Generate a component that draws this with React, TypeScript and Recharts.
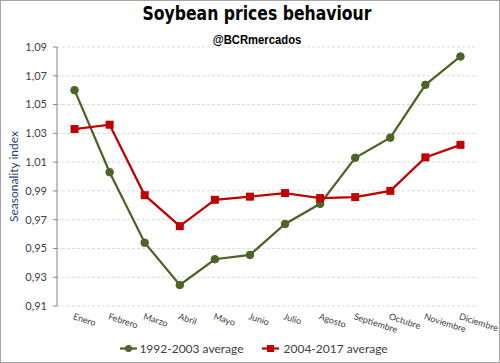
import { LineChart, Line, XAxis, YAxis, CartesianGrid, Legend } from "recharts";

const months = [
  "Enero",
  "Febrero",
  "Marzo",
  "Abril",
  "Mayo",
  "Junio",
  "Julio",
  "Agosto",
  "Septiembre",
  "Octubre",
  "Noviembre",
  "Diciembre",
];
const avg1992 = [
  1.06, 1.003, 0.954, 0.9246, 0.9425, 0.9455, 0.967, 0.981, 1.013, 1.027,
  1.0637, 1.0834,
];
const avg2004 = [
  1.033, 1.036, 0.987, 0.9655, 0.9838, 0.986, 0.9885, 0.985, 0.9857, 0.99,
  1.0133, 1.022,
];
const yTicks = [0.91, 0.93, 0.95, 0.97, 0.99, 1.01, 1.03, 1.05, 1.07, 1.09];

const GREEN = "#4F6228";
const RED = "#C00000";
const TEXT = "#404040";
const AXIS = "#868686";
const FONT = "Lato, 'Open Sans', sans-serif";

// categories sit in the middle of each band, ticks mark the band edges
const data = months.map((m, i) => ({
  x: i + 0.5,
  month: m,
  a: avg1992[i],
  b: avg2004[i],
}));
const edgeTicks = [...months.map((_, i) => i), months.length];
const centerTicks = months.map((_, i) => i + 0.5);

const MonthTick = ({ x, y, payload }: any) => (
  <g transform={`translate(${x},${y + 7}) rotate(18)`}>
    <text
      x={0}
      y={0}
      dy="0.71em"
      textAnchor="start"
      fontSize={9}
      fontFamily={FONT}
      fill={TEXT}
    >
      {months[Math.floor(payload.value)]}
    </text>
  </g>
);

const Square = (props: any) => {
  const { cx, cy, index } = props;
  if (cx == null || cy == null) return <g key={index} />;
  return (
    <rect key={index} x={cx - 4} y={cy - 4} width={8} height={8} fill={RED} />
  );
};

const LegendContent = () => (
  <div
    style={{
      display: "flex",
      justifyContent: "center",
      alignItems: "center",
      gap: 18,
      height: 26,
      paddingLeft: 8,
      fontFamily: FONT,
      fontSize: 12,
      color: TEXT,
    }}
  >
    <span style={{ display: "flex", alignItems: "center", gap: 2 }}>
      <svg width={17} height={9}>
        <line x1={0} y1={4.5} x2={17} y2={4.5} stroke={GREEN} strokeWidth={2.25} />
        <circle cx={8.5} cy={4.5} r={3.5} fill={GREEN} />
      </svg>
      1992-2003 average
    </span>
    <span style={{ display: "flex", alignItems: "center", gap: 5 }}>
      <svg width={17} height={9}>
        <line x1={0} y1={4.5} x2={17} y2={4.5} stroke={RED} strokeWidth={2.25} />
        <rect x={5} y={1} width={7} height={7} fill={RED} />
      </svg>
      2004-2017 average
    </span>
  </div>
);

export default function App() {
  return (
    <div
      style={{
        position: "absolute",
        left: 0,
        top: 0,
        width: 500,
        height: 363,
        background: "#fff",
      }}
    >
      <LineChart
        width={500}
        height={363}
        data={data}
        margin={{ top: 47, right: 22, left: 0, bottom: 2 }}
      >
        <CartesianGrid
          vertical={false}
          stroke="#d9d9d9"
          strokeDasharray="3 2"
        />
        <XAxis
          type="number"
          dataKey="x"
          domain={[0, 12]}
          ticks={edgeTicks}
          interval={0}
          height={0}
          tickSize={4}
          tickFormatter={() => ""}
          stroke={AXIS}
        />
        <XAxis
          xAxisId="m"
          type="number"
          dataKey="x"
          domain={[0, 12]}
          ticks={centerTicks}
          interval={0}
          height={29}
          tickSize={0}
          tickMargin={0}
          axisLine={false}
          tickLine={false}
          tick={<MonthTick />}
        />
        <YAxis
          width={57}
          domain={[0.91, 1.09]}
          ticks={yTicks}
          interval={0}
          tickSize={4}
          tickMargin={6}
          stroke={AXIS}
          tick={{ fill: TEXT, fontSize: 11, fontFamily: FONT }}
          tickFormatter={(v: number) => v.toFixed(2).replace(".", ",")}
          label={{
            value: "Seasonality index",
            angle: -90,
            position: "insideLeft",
            offset: 14,
            fill: "#1F3F76",
            fontSize: 12,
            fontFamily: FONT,
            style: { textAnchor: "middle" },
          }}
        />
        <Legend
          verticalAlign="bottom"
          height={26}
          wrapperStyle={{ left: 0, width: 500 }}
          content={<LegendContent />}
        />
        <Line
          dataKey="a"
          name="1992-2003 average"
          stroke={GREEN}
          strokeWidth={2.25}
          dot={{ r: 3.8, fill: GREEN, stroke: GREEN, strokeWidth: 1 }}
          activeDot={false}
          isAnimationActive={false}
        />
        <Line
          dataKey="b"
          name="2004-2017 average"
          stroke={RED}
          strokeWidth={2.25}
          dot={Square}
          activeDot={false}
          isAnimationActive={false}
        />
      </LineChart>
      <div
        style={{
          position: "absolute",
          left: 14,
          width: 486,
          top: 3,
          textAlign: "center",
          fontFamily: "'DejaVu Sans Condensed', 'DejaVu Sans', sans-serif",
          fontWeight: "bold",
          fontSize: 20,
          lineHeight: 1,
          color: "#000",
          transform: "scaleX(0.87)",
        }}
      >
        Soybean prices behaviour
      </div>
      <div
        style={{
          position: "absolute",
          left: 14,
          width: 486,
          top: 34,
          textAlign: "center",
          fontFamily: "'Liberation Sans', Arial, sans-serif",
          fontWeight: "bold",
          fontSize: 12,
          lineHeight: 1,
          color: "#000",
          transform: "scaleX(0.94)",
        }}
      >
        @BCRmercados
      </div>
      <div
        style={{
          position: "absolute",
          left: 0,
          top: 0,
          width: 500,
          height: 363,
          boxSizing: "border-box",
          border: "1px solid #a6a6a6",
          pointerEvents: "none",
        }}
      />
    </div>
  );
}
